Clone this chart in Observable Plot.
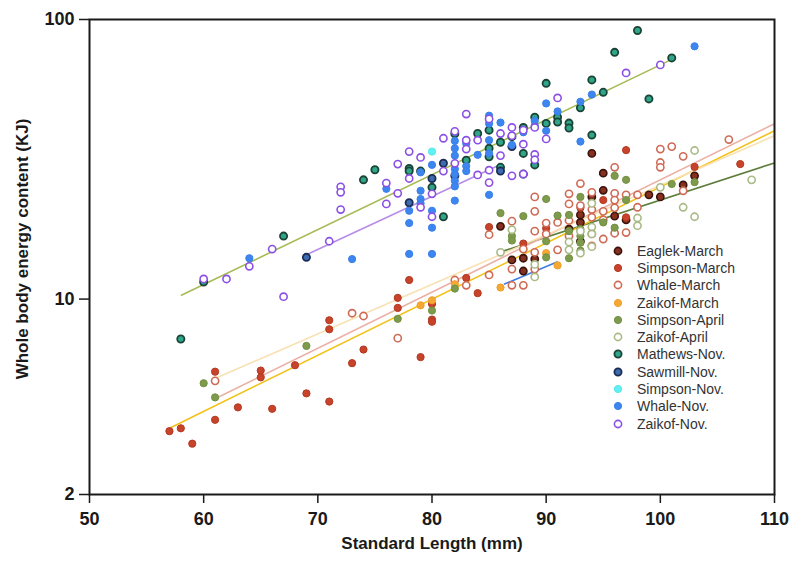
<!DOCTYPE html>
<html><head><meta charset="utf-8">
<script src="https://cdn.jsdelivr.net/npm/d3@7"></script>
<script src="https://cdn.jsdelivr.net/npm/@observablehq/plot@0.6"></script>
<style>
body{margin:0;background:#fff;}
#wrap{position:relative;width:791px;height:561px;}
#legend{position:absolute;left:611px;top:242px;font:14px "Liberation Sans",Arial,sans-serif;color:#333;}
.row{height:17.3px;display:flex;align-items:center;white-space:nowrap;}
.row svg{margin-right:12px;flex:none}
</style></head><body><div id="wrap"><div id="legend"></div></div>
<script>
// ---- categories ----
const seriesNames = ["Eaglek-March","Simpson-March","Whale-March","Zaikof-March","Simpson-April","Zaikof-April","Mathews-Nov.","Sawmill-Nov.","Simpson-Nov.","Whale-Nov.","Zaikof-Nov."];
const xTicks = [50,60,70,80,90,100,110];
const yTicks = [2,10,100];
const xTitle = "Standard Length (mm)";
const yTitle = "Whole body energy content (KJ)";

// ---- series values: [standard length (mm), energy (KJ)] ----
const eaglekMarch = [[86,18.2],[87,13.8],[88,14.0],[88,12.6],[89,13.9],[92,17.8],[93,20.0],[93,18.8],[93,16.1],[94,33.2],[94,23.2],[95,28.2],[95,24.5],[96,19.8],[97,19.2],[99,23.6],[100,23.2],[102,25.6],[103,27.6]];
const simpsonMarch = [[57,3.37],[58,3.45],[59,3.04],[61,5.5],[61,3.7],[63,4.1],[65,5.55],[65,5.25],[66,4.05],[68,5.8],[69,4.6],[71,8.4],[71,7.8],[71,4.3],[73,5.9],[74,6.6],[77,10.1],[77,9.3],[78,11.7],[79,6.2],[80,9.6],[80,8.45],[80,8.3],[83,11.9],[84,10.5],[85,18.1],[88,15.8],[90,17.9],[93,21.2],[95,22.6],[97,34.1],[97,19.6],[103,29.7],[107,30.4]];
const whaleMarch = [[61,5.1],[73,8.9],[74,8.7],[77,7.25],[82,11.7],[83,11.2],[85,12.2],[85,17.0],[87,19.0],[87,12.8],[87,11.2],[88,15.1],[88,11.2],[89,23.2],[89,20.6],[89,17.5],[89,14.7],[89,12.8],[90,18.7],[90,17.1],[91,18.8],[91,15.0],[92,23.8],[92,21.9],[92,19.1],[92,16.8],[93,25.9],[93,21.6],[94,24.1],[94,20.9],[94,19.6],[94,17.1],[94,15.5],[95,20.6],[95,19.2],[95,16.4],[96,29.6],[96,23.9],[96,22.6],[96,21.2],[96,17.2],[97,23.6],[97,17.3],[98,23.6],[98,21.3],[100,34.4],[100,30.8],[100,29.6],[101,35.1],[102,32.4],[102,24.4],[106,37.2]];
const zaikofMarch = [[79,9.5],[80,9.9],[82,11.3],[86,11.0],[90,14.6],[91,13.2]];
const simpsonApril = [[60,5.0],[61,4.45],[69,6.8],[77,8.5],[80,9.1],[82,10.9],[86,20.3],[87,16.8],[87,16.2],[88,19.8],[90,22.8],[90,16.1],[90,14.1],[91,19.9],[92,20.0],[92,17.5],[92,14.0],[93,23.2],[93,17.8],[93,16.8],[93,15.9],[93,14.9],[94,22.1],[95,18.8],[96,27.6],[96,18.0],[97,26.7],[97,22.6],[101,25.8],[103,26.2]];
const zaikofApril = [[86,14.7],[87,17.7],[89,13.3],[89,12.0],[92,16.0],[92,15.0],[93,17.5],[93,14.6],[94,22.0],[94,18.1],[94,17.1],[94,15.4],[98,19.5],[98,18.3],[100,25.1],[102,21.3],[103,34.0],[103,19.7],[108,26.7]];
const mathewsNov = [[58,7.2],[60,11.5],[67,16.8],[74,26.7],[75,29.0],[78,29.3],[78,28.7],[79,28.7],[80,25.1],[81,19.7],[82,39.0],[83,31.4],[84,39.1],[85,40.2],[85,34.6],[85,32.3],[86,36.4],[86,29.6],[87,38.1],[88,41.1],[88,33.2],[88,28.0],[89,44.7],[89,30.2],[90,59.1],[90,42.5],[91,44.7],[91,43.0],[92,42.6],[92,40.9],[93,48.3],[94,60.8],[94,38.6],[95,54.9],[96,76.3],[98,91.3],[99,52.0],[101,72.9]];
const sawmillNov = [[69,14.1],[78,22.1],[80,27.0],[81,30.6],[82,27.6],[86,28.7],[87,35.1]];
const simpsonNov = [[80,33.7]];
const whaleNov = [[64,14.0],[73,13.9],[76,24.8],[78,20.7],[78,18.7],[78,14.5],[79,28.4],[79,24.4],[79,22.8],[79,22.0],[80,30.2],[80,20.7],[80,18.0],[80,14.5],[82,36.8],[82,34.6],[82,32.6],[82,29.2],[82,28.0],[82,26.5],[82,25.3],[82,22.5],[83,36.0],[83,29.9],[83,28.7],[84,32.8],[85,45.3],[85,42.4],[85,37.0],[85,33.2],[85,23.6],[86,42.8],[87,35.6],[88,39.5],[89,41.7],[89,43.4],[90,50.1],[90,40.0],[91,46.9],[93,50.8],[93,36.6],[94,53.9],[103,80.2]];
const zaikofNov = [[60,11.8],[62,11.8],[64,13.1],[66,15.1],[67,10.2],[71,16.1],[72,25.2],[72,24.1],[72,20.9],[76,26.0],[76,21.9],[77,30.4],[77,23.9],[78,33.7],[78,27.0],[79,32.1],[79,21.3],[80,23.8],[80,19.7],[81,37.6],[81,28.7],[82,39.8],[82,30.6],[83,45.9],[83,37.0],[83,34.4],[84,37.0],[84,27.8],[85,44.1],[85,28.9],[85,26.1],[86,39.1],[86,32.6],[87,41.1],[87,38.4],[87,27.6],[88,40.2],[88,35.8],[88,28.0],[89,41.1],[89,32.9],[89,31.5],[90,37.4],[91,52.4],[97,64.4],[100,68.8]];

// ---- fitted lines (endpoints) ----
const fitFromLength = [58, 69, 86.3, 85.7, 57, 61, 61];
const fitFromEnergy = [10.3, 14.4, 11.3, 14.6, 3.45, 4.4, 5.2];
const fitToLength   = [101, 86, 91, 110, 110, 110, 110];
const fitToEnergy   = [72, 30.3, 13.6, 30.7, 40.0, 42.4, 38.4];

// ---- styles ----
const seriesData = [eaglekMarch, simpsonMarch, whaleMarch, zaikofMarch, simpsonApril, zaikofApril, mathewsNov, sawmillNov, simpsonNov, whaleNov, zaikofNov];
const seriesStyle = [
  {fill:"#86301f", stroke:"#3a130d", strokeWidth:1.6},
  {fill:"#c8432b", stroke:"#b3391f", strokeWidth:1},
  {fill:"white",   stroke:"#cf6a55", strokeWidth:1.6},
  {fill:"#f5a833", stroke:"#ee9f2c", strokeWidth:1},
  {fill:"#7e9b4c", stroke:"#728f43", strokeWidth:1},
  {fill:"white",   stroke:"#a9ba86", strokeWidth:1.6},
  {fill:"#2fa689", stroke:"#1b4437", strokeWidth:1.8},
  {fill:"#3b6cb0", stroke:"#1c2c55", strokeWidth:1.8},
  {fill:"#5ff0f2", stroke:"#55e8ee", strokeWidth:1},
  {fill:"#3d86f0", stroke:"#3a7fe8", strokeWidth:1},
  {fill:"white",   stroke:"#8b4fe6", strokeWidth:1.6}
];
const fitColors = ["#a6bb55", "#b78de8", "#3f7ee0", "#5d7d3a", "#f2c21b", "#ebb1a6", "#f8e1b2"];

const fits = fitFromLength.map((x1, i) => ({x1, y1: fitFromEnergy[i], x2: fitToLength[i], y2: fitToEnergy[i], i}));

const marks = [];
fits.forEach((f, i) => marks.push(Plot.link([f], {x1:"x1", y1:"y1", x2:"x2", y2:"y2", stroke: fitColors[i], strokeWidth: 1.6})));
seriesData.forEach((rows, i) => marks.push(Plot.dot(rows, {x: d => d[0], y: d => d[1], r: 3.6, ...seriesStyle[i]})));
marks.push(Plot.frame({stroke: "#1a1a1a", strokeWidth: 2}));
marks.push(Plot.axisX({ticks: xTicks, tickSize: 9, tickPadding: 9, label: null, fontSize: 18, stroke: "#1a1a1a", strokeWidth: 1.5, tickFormat: d => String(d)}));
marks.push(Plot.axisY({ticks: yTicks, tickSize: 10, tickPadding: 5, label: null, fontSize: 18, stroke: "#1a1a1a", strokeWidth: 1.5, tickFormat: d => String(d)}));
marks.push(Plot.text([xTitle], {frameAnchor: "bottom", dy: 54, text: d => d, fontSize: 17, fontWeight: "bold", fill: "#1a1a1a"}));
marks.push(Plot.text([yTitle], {frameAnchor: "left", dx: -67, dy: -8, rotate: -90, textAnchor: "middle", text: d => d, fontSize: 17, fontWeight: "bold", fill: "#1a1a1a"}));

const chart = Plot.plot({
  width: 791, height: 561,
  marginLeft: 89, marginRight: 17, marginTop: 19, marginBottom: 67,
  style: {fontFamily: "'Liberation Sans', Arial, sans-serif", fontSize: "17px", fontWeight: "bold", color: "#1a1a1a", background: "white"},
  x: {domain: [50, 110]},
  y: {type: "log", domain: [2, 100]},
  marks
});
const wrap = document.getElementById("wrap");
wrap.insertBefore(chart, wrap.firstChild);

// legend
const legend = document.getElementById("legend");
seriesNames.forEach((name, i) => {
  const s = seriesStyle[i];
  const row = document.createElement("div");
  row.className = "row";
  row.innerHTML = `<svg width="14" height="14"><circle cx="7" cy="7" r="3.6" fill="${s.fill}" stroke="${s.stroke}" stroke-width="${s.strokeWidth}"/></svg><span>${name}</span>`;
  legend.appendChild(row);
});
</script>
</body></html>
